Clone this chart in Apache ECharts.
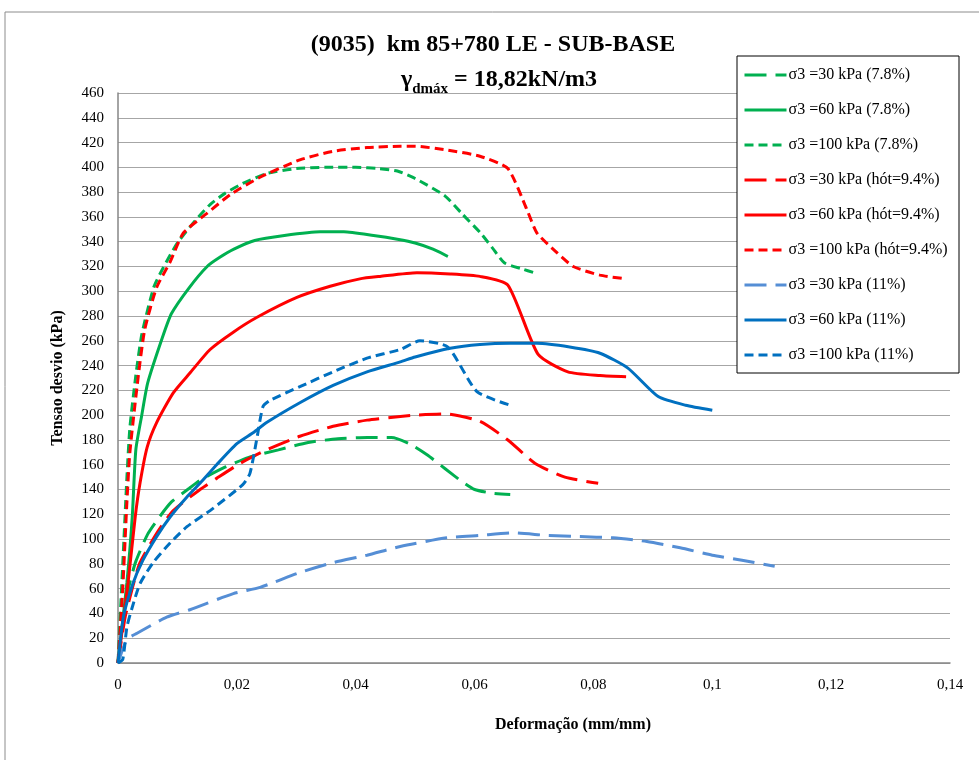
<!DOCTYPE html>
<html>
<head>
<meta charset="utf-8">
<script src="https://cdn.jsdelivr.net/npm/echarts@6/dist/echarts.min.js"></script>
<style>
html,body{margin:0;padding:0;background:#fff;}
#main{width:979px;height:760px;}
</style>
</head>
<body>
<div id="main"></div>
<script>
// tick labels (x axis uses decimal comma)
var xTicks = ['0','0,02','0,04','0,06','0,08','0,1','0,12','0,14'];

var names = [
	'σ3 =30 kPa (7.8%)',
	'σ3 =60 kPa (7.8%)',
	'σ3 =100 kPa (7.8%)',
	'σ3 =30 kPa (hót=9.4%)',
	'σ3 =60 kPa (hót=9.4%)',
	'σ3 =100 kPa (hót=9.4%)',
	'σ3 =30 kPa (11%)',
	'σ3 =60 kPa (11%)',
	'σ3 =100 kPa (11%)'
];

// [deformacao, tensao]
var g30 = [[0,0],[0.001,40],[0.002,65],[0.003,82],[0.005,104],[0.007,118],[0.009,130],[0.012,141],[0.014,148],[0.018,158],[0.022,166],[0.027,172],[0.032,178],[0.037,181],[0.042,182],[0.046,182],[0.049,177],[0.052,168],[0.055,157],[0.058,146],[0.060,140],[0.063,137],[0.066,136]];
var g60 = [[0,0],[0.0015,65],[0.0024,118],[0.003,172],[0.004,200],[0.005,226],[0.0075,263],[0.009,282],[0.012,303],[0.015,320],[0.017,327],[0.0195,334],[0.023,341],[0.028,345],[0.034,348],[0.038,348],[0.043,345],[0.047,342],[0.050,339],[0.053,334],[0.0555,328]];
var g100 = [[0,0],[0.0005,50],[0.001,100],[0.0015,150],[0.002,190],[0.003,232],[0.004,265],[0.006,303],[0.0075,318],[0.010,339],[0.013,357],[0.0155,370],[0.018,379],[0.021,387],[0.025,395],[0.030,399],[0.035,400],[0.040,400],[0.044,399],[0.047,397],[0.050,391],[0.055,377],[0.058,362],[0.061,347],[0.063,335],[0.065,323],[0.068,318],[0.070,315]];
var r30 = [[0,0],[0.0012,37],[0.0025,62],[0.0037,81],[0.0067,106],[0.0093,123],[0.0138,140],[0.0166,149],[0.0205,161],[0.025,172],[0.0306,183],[0.0362,191],[0.0419,196],[0.0475,199],[0.050,200],[0.0553,201],[0.0609,195],[0.0656,180],[0.0702,161],[0.0752,150],[0.0808,145]];
var r60 = [[0,0],[0.0017,65],[0.0029,118],[0.0037,145],[0.0049,174],[0.0065,194],[0.0093,218],[0.0121,234],[0.0155,253],[0.0194,267],[0.0234,279],[0.0301,295],[0.0357,304],[0.0407,310],[0.0441,312],[0.0503,315],[0.0559,314],[0.0609,312],[0.0656,305],[0.0707,249],[0.0757,235],[0.0811,232],[0.0855,231]];
var r100 = [[0,0],[0.0008,60],[0.0015,130],[0.002,170],[0.0034,231],[0.0045,269],[0.0065,303],[0.0088,324],[0.011,347],[0.015,363],[0.0189,378],[0.0239,392],[0.0306,406],[0.0362,413],[0.0419,416],[0.0475,417],[0.050,417],[0.0553,414],[0.0609,409],[0.0656,399],[0.0688,366],[0.0705,347],[0.0739,331],[0.0766,320],[0.0811,313],[0.0855,310]];
var b30 = [[0,0],[0.0015,19],[0.0032,24],[0.0082,37],[0.0121,43],[0.0194,56],[0.0239,61],[0.0306,73],[0.0362,81],[0.0419,87],[0.0475,94],[0.0553,101],[0.0609,103],[0.0665,105],[0.0721,103],[0.0777,102],[0.0833,101],[0.0890,98],[0.0946,93],[0.1000,87],[0.1050,83],[0.1105,78]];
var b60 = [[0,0],[0.0009,37],[0.0025,64],[0.0042,83],[0.0065,102],[0.0088,118],[0.0116,134],[0.0138,145],[0.0166,160],[0.020,177],[0.0228,186],[0.025,194],[0.0306,210],[0.0362,224],[0.0419,235],[0.0475,243],[0.050,247],[0.0559,254],[0.0609,257],[0.066,258],[0.0705,258],[0.076,255],[0.0811,250],[0.0858,238],[0.0909,215],[0.0955,208],[0.1000,204]];
var b100 = [[0,0],[0.0008,3],[0.0015,29],[0.0024,45],[0.0037,64],[0.0059,81],[0.0088,97],[0.0116,110],[0.0155,123],[0.021,144],[0.0222,153],[0.0234,182],[0.0244,207],[0.0256,212],[0.0306,223],[0.0362,235],[0.0419,246],[0.0475,253],[0.0508,260],[0.0555,255],[0.0604,219],[0.066,208]];

var seriesData = [g30, g60, g100, r30, r60, r100, b30, b60, b100];
var colors = ['#00B050','#00B050','#00B050','#FF0000','#FF0000','#FF0000','#558ED5','#0070C0','#0070C0'];
var dashes = [[22,9], 'solid', [9,5], [22,9], 'solid', [9,5], [22,9], 'solid', [9,5]];

var serif = 'Liberation Serif';

var series = [];
for (var i in seriesData) {
	series.push({
		name: names[i],
		type: 'line',
		data: seriesData[i],
		showSymbol: false,
		symbol: 'none',
		smooth: 0.2,
		color: colors[i],
		lineStyle: { width: 3, type: dashes[i], color: colors[i] }
	});
}

var myChart = echarts.init(document.getElementById('main'));
var option = {
	animation: false,
	backgroundColor: '#fff',
	title: [
		{
			text: '(9035)  km 85+780 LE - SUB-BASE',
			left: 488, top: 28, textAlign: 'center',
			textStyle: { fontFamily: serif, fontWeight: 'bold', fontSize: 24, color: '#000' }
		},
		{
			text: '{g|γ}{s|dmáx}{g| = 18,82kN/m3}',
			left: 494, top: 57, textAlign: 'center',
			textStyle: {
				rich: {
					g: { fontFamily: serif, fontWeight: 'bold', fontSize: 24, color: '#000', lineHeight: 30, verticalAlign: 'bottom' },
					s: { fontFamily: serif, fontWeight: 'bold', fontSize: 15, color: '#000', lineHeight: 30, verticalAlign: 'bottom', padding: [0,0,-5,0] }
				}
			}
		}
	],
	legend: {
		orient: 'vertical',
		left: 737, top: 56,
		padding: [11, 5, 12, 6],
		itemWidth: 42, itemHeight: 14, itemGap: 19,
		itemStyle: { opacity: 0 },
		lineStyle: { width: 3 },
		textStyle: { fontFamily: serif, fontSize: 16, color: '#000', padding: [0,0,0,-3] },
		data: names
	},
	graphic: [
		{ type: 'rect', shape: { x: 5, y: 12, width: 1000, height: 800 }, style: { fill: 'none', stroke: '#8c8c8c', lineWidth: 1 }, silent: true, z: -10 },
		{ type: 'rect', shape: { x: 737, y: 56, width: 222, height: 317 }, style: { fill: '#fff', stroke: '#000', lineWidth: 1 }, silent: true, z: 3 }
	],
	grid: { left: 118, top: 93, right: 29, bottom: 97, containLabel: false },
	xAxis: {
		type: 'value', min: 0, max: 0.14, interval: 0.02,
		name: 'Deformação (mm/mm)', nameLocation: 'middle', nameGap: 54,
		nameTextStyle: { fontFamily: serif, fontWeight: 'bold', fontSize: 16, color: '#000', padding: [0,0,0,78] },
		axisLine: { lineStyle: { color: '#868686', width: 1.5 } },
		axisTick: { show: false },
		splitLine: { show: false },
		axisLabel: {
			fontFamily: serif, fontSize: 15, color: '#000', margin: 15,
			formatter: function (v) { return xTicks[Math.round(v / 0.02)]; }
		}
	},
	yAxis: {
		type: 'value', min: 0, max: 460, interval: 20,
		name: 'Tensao desvio (kPa)', nameLocation: 'middle', nameGap: 52,
		nameTextStyle: { fontFamily: serif, fontWeight: 'bold', fontSize: 16, color: '#000' },
		axisLine: { show: true, lineStyle: { color: '#868686', width: 1.5 } },
		axisTick: { show: false },
		splitLine: { lineStyle: { color: '#a6a6a6', width: 1.2 } },
		axisLabel: { fontFamily: serif, fontSize: 15, color: '#000', margin: 14 }
	},
	series: series
};
myChart.setOption(option);
</script>
</body>
</html>
